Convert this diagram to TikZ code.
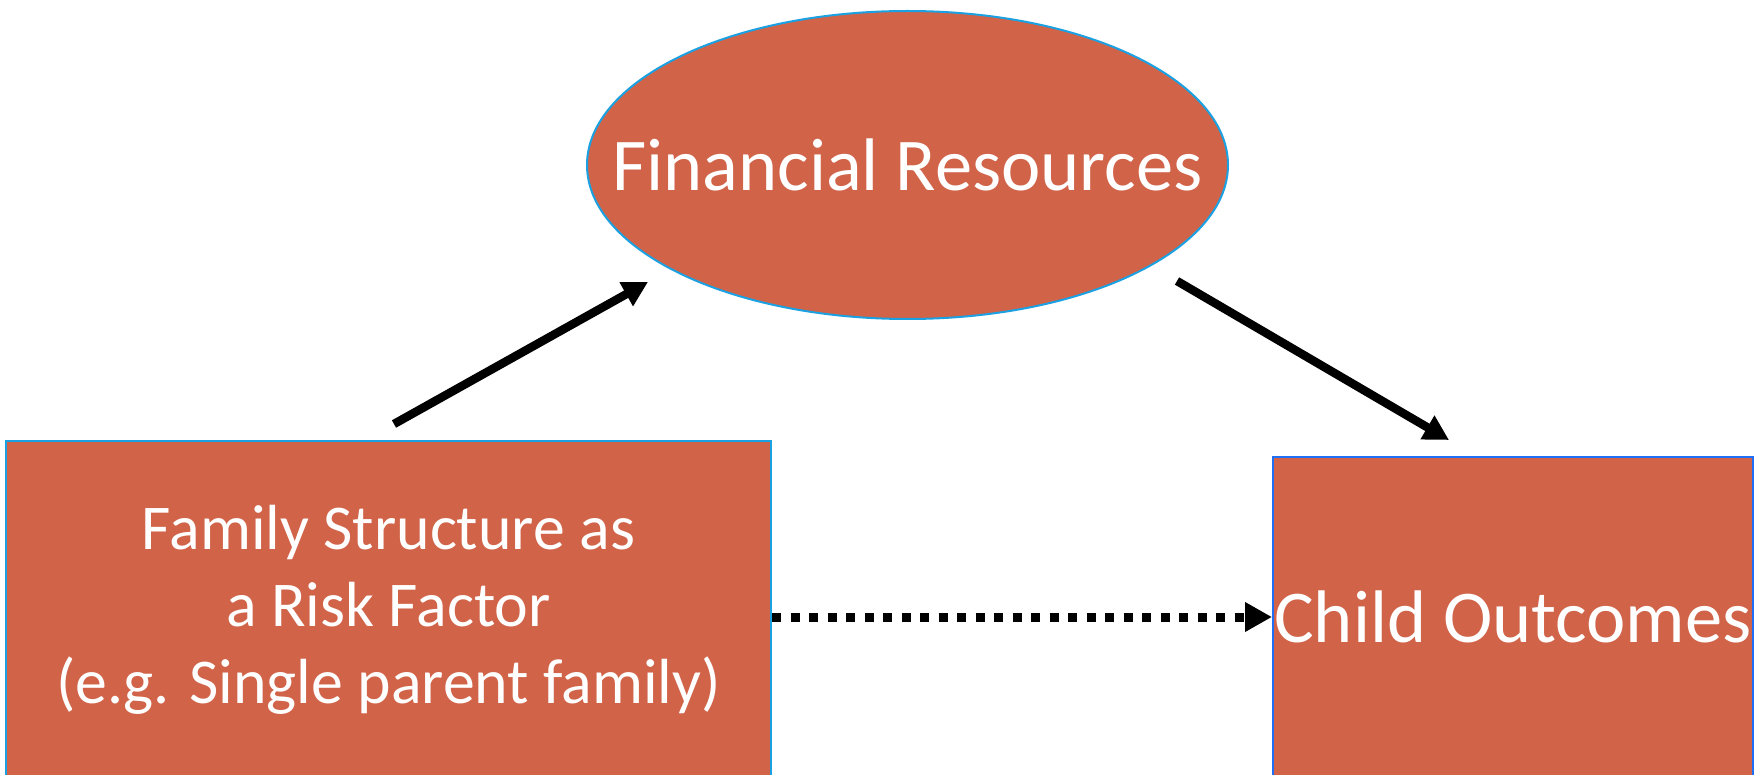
\documentclass[tikz,border=0pt]{standalone}
\usepackage{fontspec}
\setmainfont{Carlito}
\usetikzlibrary{shapes.geometric,arrows.meta}
\definecolor{boxfill}{RGB}{209,99,73}
\definecolor{edgeA}{RGB}{27,161,226}
\definecolor{edgeB}{RGB}{30,111,245}
\tikzset{
  boxbase/.style={fill=boxfill, line width=2pt, text=white, inner sep=0pt},
  bigtext/.style={font=\fontsize{74.5}{90}\selectfont},
  smalltext/.style={font=\fontsize{63.8}{77}\selectfont, align=center},
  solidarrow/.style={line width=8.5pt, -{Triangle[length=25pt,width=26pt]}},
  dotarrow/.style={line width=9pt, dash pattern=on 9pt off 9.5pt, -{Triangle[length=27pt,width=28pt]}}
}
\begin{document}
\begin{tikzpicture}[x=1pt,y=-1pt]
  \useasboundingbox (0,0) rectangle (1754,775);

  % the three factors
  \node[boxbase, draw=edgeA, ellipse, minimum width=641pt, minimum height=308pt, bigtext]
    (fin) at (907.5,165) {\makebox[0pt]{Financial Resources}};
  \node[boxbase, draw=edgeA, rectangle, minimum width=765pt, minimum height=338pt, smalltext]
    (fam) at (388.5,610) {Family Structure as\\a Risk Factor\\(e.g. Single parent family)};
  \node[boxbase, draw=edgeB, rectangle, minimum width=480pt, minimum height=320pt, bigtext]
    (child) at (1513,617) {Child Outcomes};

  % arrow end points
  \coordinate (a1s) at (394,424);
  \coordinate (a1e) at (648,282);
  \coordinate (a2s) at (1177,281);
  \coordinate (a2e) at (1449,440);

  \draw[solidarrow] (a1s) -- (a1e);
  \draw[solidarrow] (a2s) -- (a2e);
  \draw[dotarrow] (fam.east |- 0,617) -- (child.west);
\end{tikzpicture}
\end{document}
